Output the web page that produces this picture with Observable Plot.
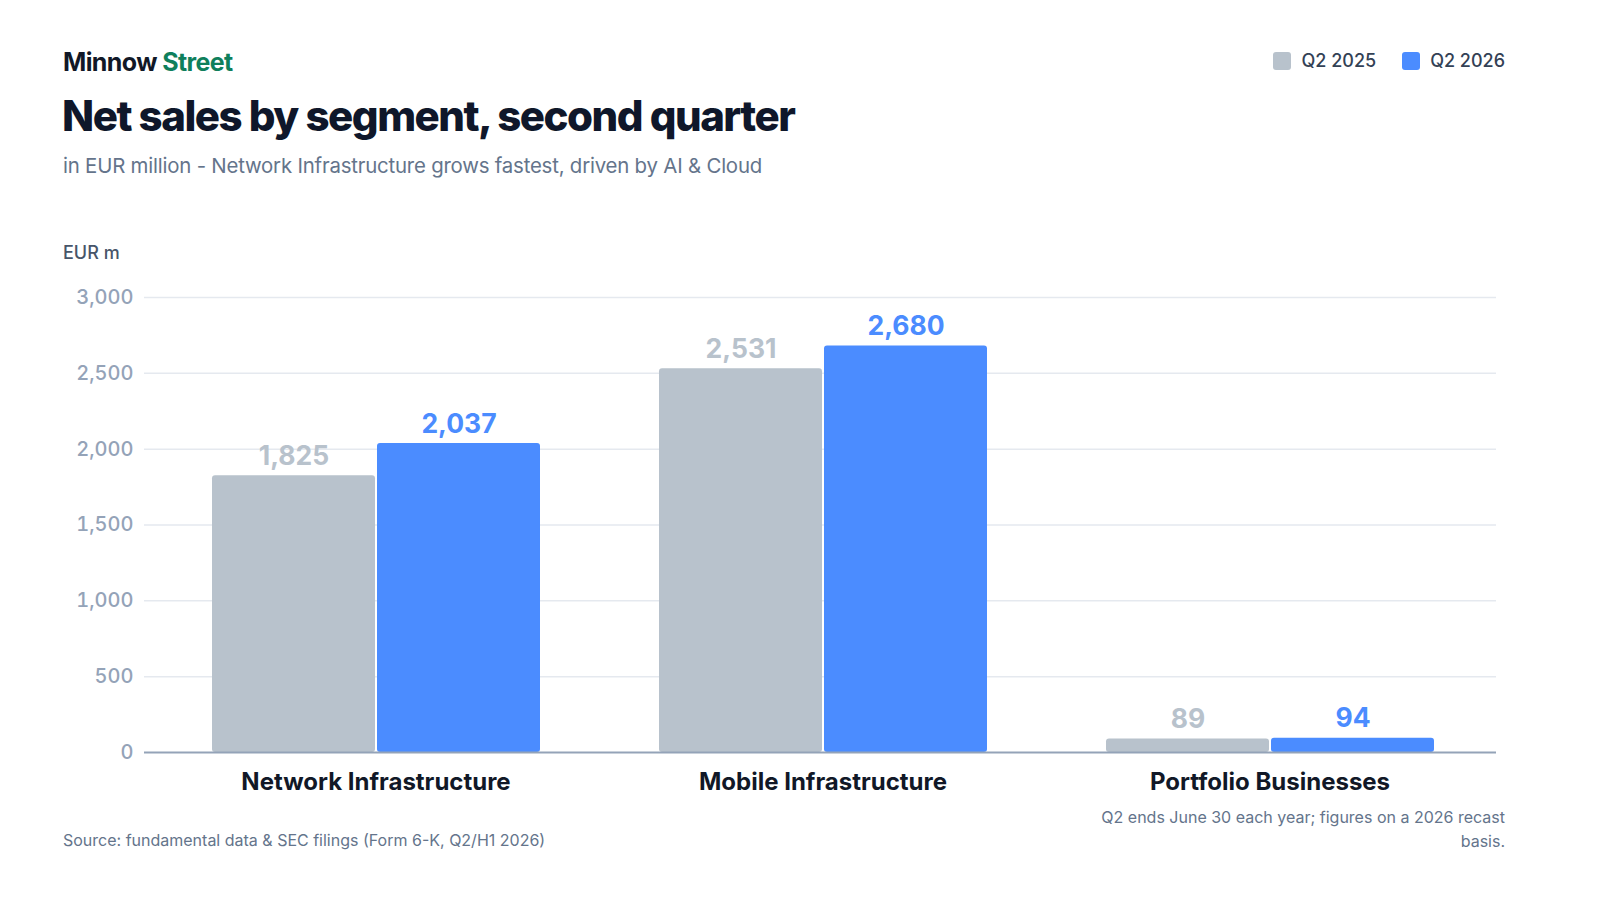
<!DOCTYPE html>
<html>
<head>
<meta charset="utf-8">
<script src="https://cdn.jsdelivr.net/npm/d3@7"></script>
<script src="https://cdn.jsdelivr.net/npm/@observablehq/plot@0.6"></script>
<style>
  html, body { margin: 0; padding: 0; background: #ffffff; }
  body { width: 1600px; height: 900px; position: relative; overflow: hidden; font-family: Inter, "Noto Sans", sans-serif; }
  .abs { position: absolute; white-space: nowrap; }
  #brand { left: 63px; top: 46px; font-size: 25px; font-weight: 700; color: #111827; letter-spacing: -0.6px; line-height: 32px; }
  #brand span { color: #0f7f5c; }
  #title { left: 62px; top: 91px; font-size: 42px; font-weight: 800; color: #0f172a; letter-spacing: -1.5px; line-height: 50px; }
  #subtitle { left: 63px; top: 152px; font-size: 20.4px; font-weight: 400; color: #64748b; line-height: 28px; letter-spacing: -0.2px; }
  #ylabel { left: 63px; top: 242px; font-size: 18px; font-weight: 500; color: #475569; line-height: 22px; }
  #legend { right: 95px; top: 49px; display: flex; gap: 26px; font-size: 18px; font-weight: 500; color: #334155; line-height: 24px; }
  #legend .item { display: flex; align-items: center; gap: 10px; }
  #legend .sw { width: 18px; height: 18px; border-radius: 3px; display: inline-block; }
  .layer { position: absolute; left: 0; top: 270px; }
  #source { left: 63px; top: 829px; font-size: 16px; color: #64748b; line-height: 22px; }
  #note { right: 95px; top: 805px; width: 420px; white-space: normal; text-align: right; font-size: 16px; color: #64748b; line-height: 24px; }
</style>
</head>
<body>
<div id="brand" class="abs">Minnow <span>Street</span></div>
<div id="title" class="abs">Net sales by segment, second quarter</div>
<div id="subtitle" class="abs">in EUR million - Network Infrastructure grows fastest, driven by AI &amp; Cloud</div>
<div id="legend" class="abs"></div>
<div id="ylabel" class="abs">EUR m</div>
<div id="bg" class="layer"></div>
<div id="main" class="layer"></div>
<div id="fg" class="layer"></div>
<div id="source" class="abs">Source: fundamental data &amp; SEC filings (Form 6-K, Q2/H1 2026)</div>
<div id="note" class="abs">Q2 ends June 30 each year; figures on a 2026 recast basis.</div>
<script>
const segments = ["Network Infrastructure", "Mobile Infrastructure", "Portfolio Businesses"];
const periods = ["Q2 2025", "Q2 2026"];
const q2_2025 = [1825, 2531, 89];
const q2_2026 = [2037, 2680, 94];
const yTicks = [0, 500, 1000, 1500, 2000, 2500, 3000];
const colors = ["#b8c2cc", "#4b8cff"];

const data = [];
segments.forEach((s, i) => {
  data.push({segment: s, period: periods[0], value: q2_2025[i]});
  data.push({segment: s, period: periods[1], value: q2_2026[i]});
});

const legend = document.getElementById("legend");
periods.forEach((p, i) => {
  const it = document.createElement("div");
  it.className = "item";
  it.innerHTML = `<span class="sw" style="background:${colors[i]}"></span><span>${p}</span>`;
  legend.appendChild(it);
});

const fmt = d3.format(",");
const frame = {
  width: 1600,
  height: 545,
  marginLeft: 144,
  marginRight: 104,
  marginTop: 27,
  marginBottom: 63,
  style: {fontFamily: "Inter, sans-serif", background: "transparent", overflow: "visible"}
};

// background: grid + y axis
document.getElementById("bg").appendChild(Plot.plot({
  ...frame,
  y: {domain: [0, 3000], axis: null},
  marks: [
    Plot.ruleY(yTicks.filter(d => d > 0), {stroke: "#e5e9ef", strokeWidth: 1.5}),
    Plot.axisY({ticks: yTicks, tickSize: 0, tickPadding: 11, tickFormat: fmt, fontSize: 20, fontWeight: 500, color: "#94a3b8", label: null})
  ]
}));

// main: grouped bars
document.getElementById("main").appendChild(Plot.plot({
  ...frame,
  marginLeft: 150,
  fx: {domain: segments, paddingInner: 0.259, paddingOuter: 0.132, label: null},
  x: {domain: periods, padding: 0, axis: null},
  y: {domain: [0, 3000], axis: null},
  color: {domain: periods, range: colors},
  marks: [
    Plot.barY(data, {fx: "segment", x: "period", y: "value", fill: "period", insetLeft: 1, insetRight: 1, rx: 3}),
    Plot.text(data, {fx: "segment", x: "period", y: "value", text: d => fmt(d.value), fill: "period", lineAnchor: "bottom", dy: -11, fontSize: 26.5, fontWeight: 700}),
    Plot.axisFx({anchor: "bottom", tickSize: 0, tickPadding: 20, fontSize: 24, fontWeight: 700, color: "#111827", label: null})
  ]
}));

// foreground: baseline
document.getElementById("fg").appendChild(Plot.plot({
  ...frame,
  y: {domain: [0, 3000], axis: null},
  marks: [
    Plot.ruleY([0], {stroke: "#94a3b8", strokeWidth: 2})
  ]
}));
</script>
</body>
</html>
